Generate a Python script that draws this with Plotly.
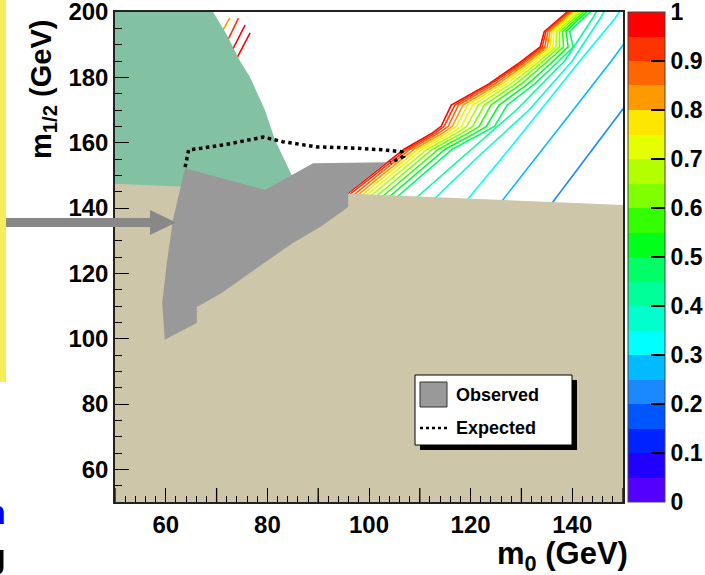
import plotly.graph_objects as go

# ---------------------------------------------------------------- data
# colour palette: 20 equal bands on [0, 1], from the bottom band upwards
palette = ["#5500ff", "#2200ff", "#0022ff", "#0055ff", "#1a88ff",
           "#00bbff", "#00ffff", "#00ffcc", "#00ff99", "#00ff66",
           "#00ff1a", "#33ff00", "#80ff00", "#b3ff00", "#e6ff00",
           "#ffe600", "#ff9900", "#ff6600", "#ff3300", "#ff0000"]

cbar_tickvals = [0.0, 0.1, 0.2, 0.3, 0.4, 0.5, 0.6, 0.7, 0.8, 0.9, 1.0]
cbar_ticktext = ["0", "0.1", "0.2", "0.3", "0.4", "0.5", "0.6", "0.7", "0.8", "0.9", "1"]

x_tickvals = [60, 80, 100, 120, 140]
x_midticks = [50, 70, 90, 110, 130, 150]
y_tickvals = [60, 80, 100, 120, 140, 160, 180, 200]

# m1/2 knots shared by the dense contour band
band_m12 = [140, 145, 150, 158, 163, 165, 171.5, 178, 184, 189.3, 194, 198, 202]

# m0 position of each contour level at the knots above
m0_at_100 = [92.5, 96.3, 100.4, 106.9, 112.5, 114.2, 116.2, 123.6, 129.2, 133.7, 134.5, 137.6, 140.5]
m0_at_095 = [93.1, 96.9, 101.0, 107.5, 113.1, 114.8, 116.9, 124.1, 129.7, 134.1, 134.8, 137.9, 140.8]
m0_at_090 = [93.9, 97.7, 101.7, 108.1, 113.8, 115.6, 117.6, 124.8, 130.2, 134.6, 135.2, 138.2, 141.1]
m0_at_085 = [94.7, 98.5, 102.5, 108.9, 114.6, 116.4, 118.5, 125.5, 130.8, 135.1, 135.6, 138.6, 141.5]
m0_at_080 = [95.6, 99.4, 103.3, 109.7, 115.4, 117.2, 119.4, 126.2, 131.4, 135.6, 136.0, 138.9, 141.8]
m0_at_075 = [96.5, 100.3, 104.2, 110.5, 116.3, 118.2, 120.4, 127.0, 132.1, 136.2, 136.4, 139.3, 142.2]
m0_at_070 = [97.5, 101.3, 105.2, 111.5, 117.3, 119.2, 121.5, 127.9, 132.8, 136.8, 136.9, 139.8, 142.7]
m0_at_065 = [98.7, 102.5, 106.3, 112.5, 118.4, 120.4, 122.7, 128.9, 133.6, 137.5, 137.5, 140.3, 143.2]
m0_at_060 = [100.0, 103.8, 107.5, 113.7, 119.6, 121.7, 124.0, 130.0, 134.5, 138.3, 138.1, 140.8, 143.7]
m0_at_055 = [101.4, 105.2, 108.9, 115.0, 121.0, 123.1, 125.6, 131.3, 135.6, 139.2, 138.8, 141.4, 144.3]
m0_at_050 = [103.0, 106.8, 110.4, 116.4, 122.5, 124.7, 127.2, 132.6, 136.7, 140.2, 139.5, 142.1, 145.0]

# sparse contours further out
far_m12 = [140, 155, 170, 185, 198, 203]
m0_at_045 = [107.0, 118.0, 129.0, 138.5, 144.0, 145.8]
m0_at_040 = [111.0, 121.0, 131.5, 140.0, 145.5, 147.3]
m0_at_035 = [118.0, 126.0, 133.8, 141.5, 148.4, 150.5]
m12_at_030 = [140, 155, 170, 185, 193]
m0_at_030 = [125.1, 132.7, 140.2, 147.7, 151.5]
m12_at_025 = [140, 150, 160, 172]
m0_at_025 = [135.3, 140.2, 145.0, 150.8]

# short contour pieces next to the theory-excluded region
stroke_levels = [0.85, 0.95, 1.0, 1.0]
stroke_m0 = [[70.0, 72.6], [71.0, 74.3], [72.0, 75.6], [73.0, 76.6]]
stroke_m12 = [[191.0, 198.2], [187.5, 198.1], [185.0, 196.0], [183.0, 193.6]]

# excluded regions
theory_m0 = [50, 69.3, 72.0, 74.6, 76.6, 79.5, 81.5, 83.3, 84.8, 86.0, 86.5, 50]
theory_m12 = [200, 200, 193, 185, 180, 170, 160.8, 155, 150, 145, 140, 140]

lep_m0 = [50, 150, 150, 50]
lep_m12 = [147.4, 140.9, 50, 50]

observed_m0 = [63.8, 79.5, 89.0, 103.5, 95.9, 95.9, 90.4, 85.0, 76.0, 71.0, 66.1,
               66.1, 60.8, 59.8, 59.3, 60.2, 61.4]
observed_m12 = [152.2, 145.5, 153.7, 154.0, 144.6, 140.3, 134.2, 129.3, 119.5, 114.0, 109.7,
                104.8, 100.5, 99.6, 110.9, 123.2, 136.3]

expected_m0 = [63.8, 64.5, 67.0, 72.0, 79.2, 83.0, 89.8, 96.3, 102.8, 106.5, 106.8, 104.2]
expected_m12 = [152.5, 157.8, 158.3, 159.5, 161.7, 160.3, 158.7, 158.4, 157.8, 157.2, 155.8, 153.8]

# ---------------------------------------------------------------- helpers
FONT = "Liberation Sans"
PL, PR, PT, PB = 115, 623, 12, 502      # plot frame in page pixels
W, H = 705, 575


def px(x):
    return (x - PL) / (PR - PL)


def py(y):
    return (PB - y) / (PB - PT)


def level_colour(level):
    idx = min(19, max(0, int(level * 20 - 1e-6)))
    return palette[idx]


colorscale = []
for i, c in enumerate(palette):
    colorscale.append([i / 20, c])
    colorscale.append([(i + 1) / 20, c])

fig = go.Figure()

# contour lines
band = [(1.00, m0_at_100), (0.95, m0_at_095), (0.90, m0_at_090), (0.85, m0_at_085),
        (0.80, m0_at_080), (0.75, m0_at_075), (0.70, m0_at_070), (0.65, m0_at_065),
        (0.60, m0_at_060), (0.55, m0_at_055), (0.50, m0_at_050)]
for lev, xs in band:
    fig.add_trace(go.Scatter(x=xs, y=band_m12, mode="lines", hoverinfo="skip",
                             line=dict(color=level_colour(lev), width=1.6),
                             showlegend=False))

far = [(0.45, m0_at_045, far_m12), (0.40, m0_at_040, far_m12), (0.35, m0_at_035, far_m12),
       (0.30, m0_at_030, m12_at_030), (0.25, m0_at_025, m12_at_025)]
for lev, xs, ys in far:
    fig.add_trace(go.Scatter(x=xs, y=ys, mode="lines", hoverinfo="skip",
                             line=dict(color=level_colour(lev), width=1.6),
                             showlegend=False))

for lev, xs, ys in zip(stroke_levels, stroke_m0, stroke_m12):
    fig.add_trace(go.Scatter(x=xs, y=ys, mode="lines", hoverinfo="skip",
                             line=dict(color=level_colour(lev), width=1.6),
                             showlegend=False))

# shaded regions
fig.add_trace(go.Scatter(x=theory_m0, y=theory_m12, mode="lines", fill="toself",
                         fillcolor="#83c1a3", line=dict(width=0), hoverinfo="skip",
                         showlegend=False))
fig.add_trace(go.Scatter(x=lep_m0, y=lep_m12, mode="lines", fill="toself",
                         fillcolor="#cdc6a9", line=dict(width=0), hoverinfo="skip",
                         showlegend=False))
fig.add_trace(go.Scatter(x=observed_m0, y=observed_m12, mode="lines", fill="toself",
                         fillcolor="#999999", line=dict(width=0), hoverinfo="skip",
                         showlegend=False))
fig.add_trace(go.Scatter(x=expected_m0, y=expected_m12, mode="lines", hoverinfo="skip",
                         line=dict(color="black", width=3.5, dash="dot"),
                         showlegend=False))

# colour scale
fig.add_trace(go.Scatter(
    x=[100], y=[0], mode="markers", hoverinfo="skip", showlegend=False,
    marker=dict(color=[0.5], colorscale=colorscale, cmin=0, cmax=1, showscale=True,
                colorbar=dict(x=px(628), xanchor="left", xpad=0, y=0, yanchor="bottom",
                              ypad=0, len=1, lenmode="fraction", thickness=37,
                              thicknessmode="pixels", outlinewidth=1, outlinecolor="#444",
                              tickmode="array", tickvals=cbar_tickvals, ticktext=cbar_ticktext,
                              ticks="inside", ticklen=14, tickwidth=1.5, tickcolor="black",
                              ticklabeloverflow="allow",
                              tickfont=dict(family=FONT, size=23, color="black", weight="bold")))))

shapes = []
annotations = []

# unlabelled ticks at every odd ten on the m0 axis
for v in x_midticks:
    shapes.append(dict(type="line", xref="x", yref="paper", x0=v, x1=v, y0=0, y1=14 / (PB - PT),
                       line=dict(color="black", width=1.3), layer="above"))

# legend box with drop shadow
shapes.append(dict(type="rect", xref="paper", yref="paper", x0=px(420), x1=px(577),
                   y0=py(450), y1=py(380), fillcolor="black", line=dict(width=0)))
shapes.append(dict(type="rect", xref="paper", yref="paper", x0=px(415), x1=px(572),
                   y0=py(445), y1=py(375), fillcolor="white", line=dict(color="black", width=1)))
shapes.append(dict(type="rect", xref="paper", yref="paper", x0=px(420), x1=px(447),
                   y0=py(407), y1=py(382), fillcolor="#999999", line=dict(color="#333", width=1)))
shapes.append(dict(type="line", xref="paper", yref="paper", x0=px(420), x1=px(447),
                   y0=py(428), y1=py(428), line=dict(color="black", width=2.5, dash="dot")))
annotations.append(dict(xref="paper", yref="paper", x=px(454), y=py(395), xanchor="left",
                        yanchor="middle", showarrow=False, text="Observed",
                        font=dict(family=FONT, size=18, color="black", weight="bold")))
annotations.append(dict(xref="paper", yref="paper", x=px(454), y=py(428), xanchor="left",
                        yanchor="middle", showarrow=False, text="Expected",
                        font=dict(family=FONT, size=18, color="black", weight="bold")))

# pointer arrow on the left
shapes.append(dict(type="rect", xref="paper", yref="paper", x0=px(-2), x1=px(152),
                   y0=py(227), y1=py(218), fillcolor="#888888", line=dict(width=0)))
shapes.append(dict(type="path", xref="paper", yref="paper",
                   path="M {} {} L {} {} L {} {} Z".format(px(150), py(210), px(176), py(222.5),
                                                         px(150), py(235)),
                   fillcolor="#888888", line=dict(width=0)))

# yellow side bar
shapes.append(dict(type="rect", xref="paper", yref="paper", x0=px(-2), x1=px(6),
                   y0=py(382), y1=py(-2), fillcolor="#f5ee58", line=dict(width=0)))

# axis titles
annotations.append(dict(xref="paper", yref="paper", x=px(43), y=py(90), xanchor="center",
                        yanchor="middle", showarrow=False, textangle=-90,
                        text="m<sub>1/2</sub> (GeV)",
                        font=dict(family=FONT, size=29, color="black", weight="bold")))
annotations.append(dict(xref="paper", yref="paper", x=px(630), y=py(556), xanchor="right",
                        yanchor="middle", showarrow=False,
                        text="m<sub>0</sub> (GeV)",
                        font=dict(family=FONT, size=31, color="black", weight="bold")))

# slide text running off the left edge
annotations.append(dict(xref="paper", yref="paper", x=px(8), y=py(533), xanchor="right",
                        yanchor="bottom", showarrow=False, text="n",
                        font=dict(family=FONT, size=34, color="#0000ff", weight="bold")))
annotations.append(dict(xref="paper", yref="paper", x=px(8), y=py(577), xanchor="right",
                        yanchor="bottom", showarrow=False, text="g",
                        font=dict(family=FONT, size=34, color="black", weight="bold")))

tickfont = dict(family=FONT, size=24, color="black", weight="bold")
fig.update_layout(
    width=W, height=H,
    margin=dict(l=PL, r=W - PR, t=PT, b=H - PB, pad=0, autoexpand=False),
    paper_bgcolor="white", plot_bgcolor="white",
    showlegend=False,
    shapes=shapes, annotations=annotations,
    xaxis=dict(range=[50, 150], tickmode="array", tickvals=x_tickvals,
               ticks="inside", ticklen=14, tickwidth=1.3, tickcolor="black",
               minor=dict(dtick=2, tick0=50, ticks="inside", ticklen=6, tickwidth=1,
                          tickcolor="black"),
               showline=True, linecolor="#222", linewidth=1.5, mirror=True,
               showgrid=False, zeroline=False, tickfont=tickfont,
               ticklabeloverflow="allow"),
    yaxis=dict(range=[50, 200], tickmode="array", tickvals=y_tickvals,
               ticks="inside", ticklen=14, tickwidth=1.3, tickcolor="black",
               minor=dict(dtick=5, tick0=50, ticks="inside", ticklen=7, tickwidth=1,
                          tickcolor="black"),
               showline=True, linecolor="#222", linewidth=1.5, mirror=True,
               showgrid=False, zeroline=False, tickfont=tickfont,
               ticklabeloverflow="allow"),
)

fig.write_html("out.html")
